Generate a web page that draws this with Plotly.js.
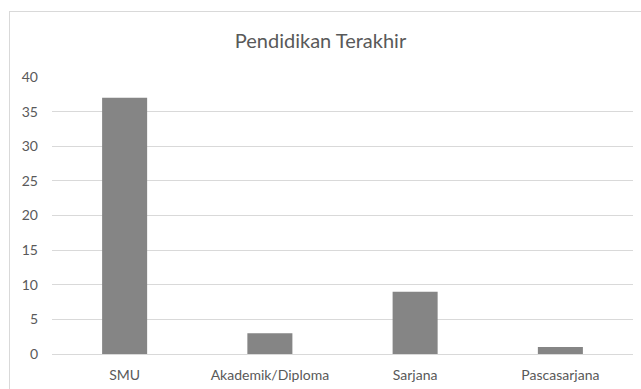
<!DOCTYPE html>
<html>
<head>
<meta charset="utf-8">
<script src="https://cdn.plot.ly/plotly-3.0.1.min.js"></script>
<style>
  html, body { margin: 0; padding: 0; background: #ffffff; width: 641px; height: 389px; overflow: hidden; }
  ::-webkit-scrollbar { display: none; width: 0; height: 0; }
  html { scrollbar-width: none; }
  #wrap { position: relative; width: 641px; height: 389px; overflow: hidden; }
  #chart { position: absolute; left: 0; top: 0; width: 641px; height: 389px; }
  /* light frame around the chart area, open to the right and bottom */
  #frame { position: absolute; left: 9px; top: 11px; width: 640px; height: 385px;
           border: 1px solid #d9d9d9; box-sizing: border-box; pointer-events: none; }
</style>
</head>
<body>
<div id="wrap">
  <div id="chart"></div>
  <div id="frame"></div>
</div>
<script>
// Last education level of respondents
const categories = ["SMU", "Akademik/Diploma", "Sarjana", "Pascasarjana"];
const counts = [37, 3, 9, 1];
const yTicks = [0, 5, 10, 15, 20, 25, 30, 35, 40];

const W = 641, H = 389;

const trace = {
  type: "bar",
  x: categories,
  y: counts,
  marker: { color: "#858585", line: { width: 0 } },
  hoverinfo: "x+y"
};

const layout = {
  width: W, height: H,
  margin: { l: 52, r: 8, t: 77, b: 35 },
  paper_bgcolor: "rgba(0,0,0,0)",
  plot_bgcolor: "rgba(0,0,0,0)",
  font: { family: "Lato, 'Open Sans', sans-serif", color: "#595959", size: 14 },
  title: {
    text: "Pendidikan Terakhir",
    font: { size: 20, color: "#595959" },
    x: 0.5, xref: "container", xanchor: "center",
    y: 1 - 41 / H, yref: "container", yanchor: "middle"
  },
  bargap: 0.69,
  showlegend: false,
  xaxis: {
    showgrid: false,
    showline: true, linecolor: "#d9d9d9", linewidth: 1,
    ticks: "", tickfont: { size: 14, color: "#595959" },
    ticklabelstandoff: 8
  },
  yaxis: {
    range: [0, 40],
    tickvals: yTicks,
    showgrid: true, gridcolor: "#d9d9d9", gridwidth: 1,
    zeroline: false, showline: false,
    ticks: "", ticklabelstandoff: 13,
    tickfont: { size: 14, color: "#595959" }
  }
};

Plotly.newPlot("chart", [trace], layout, { displayModeBar: false, staticPlot: true });
</script>
</body>
</html>
